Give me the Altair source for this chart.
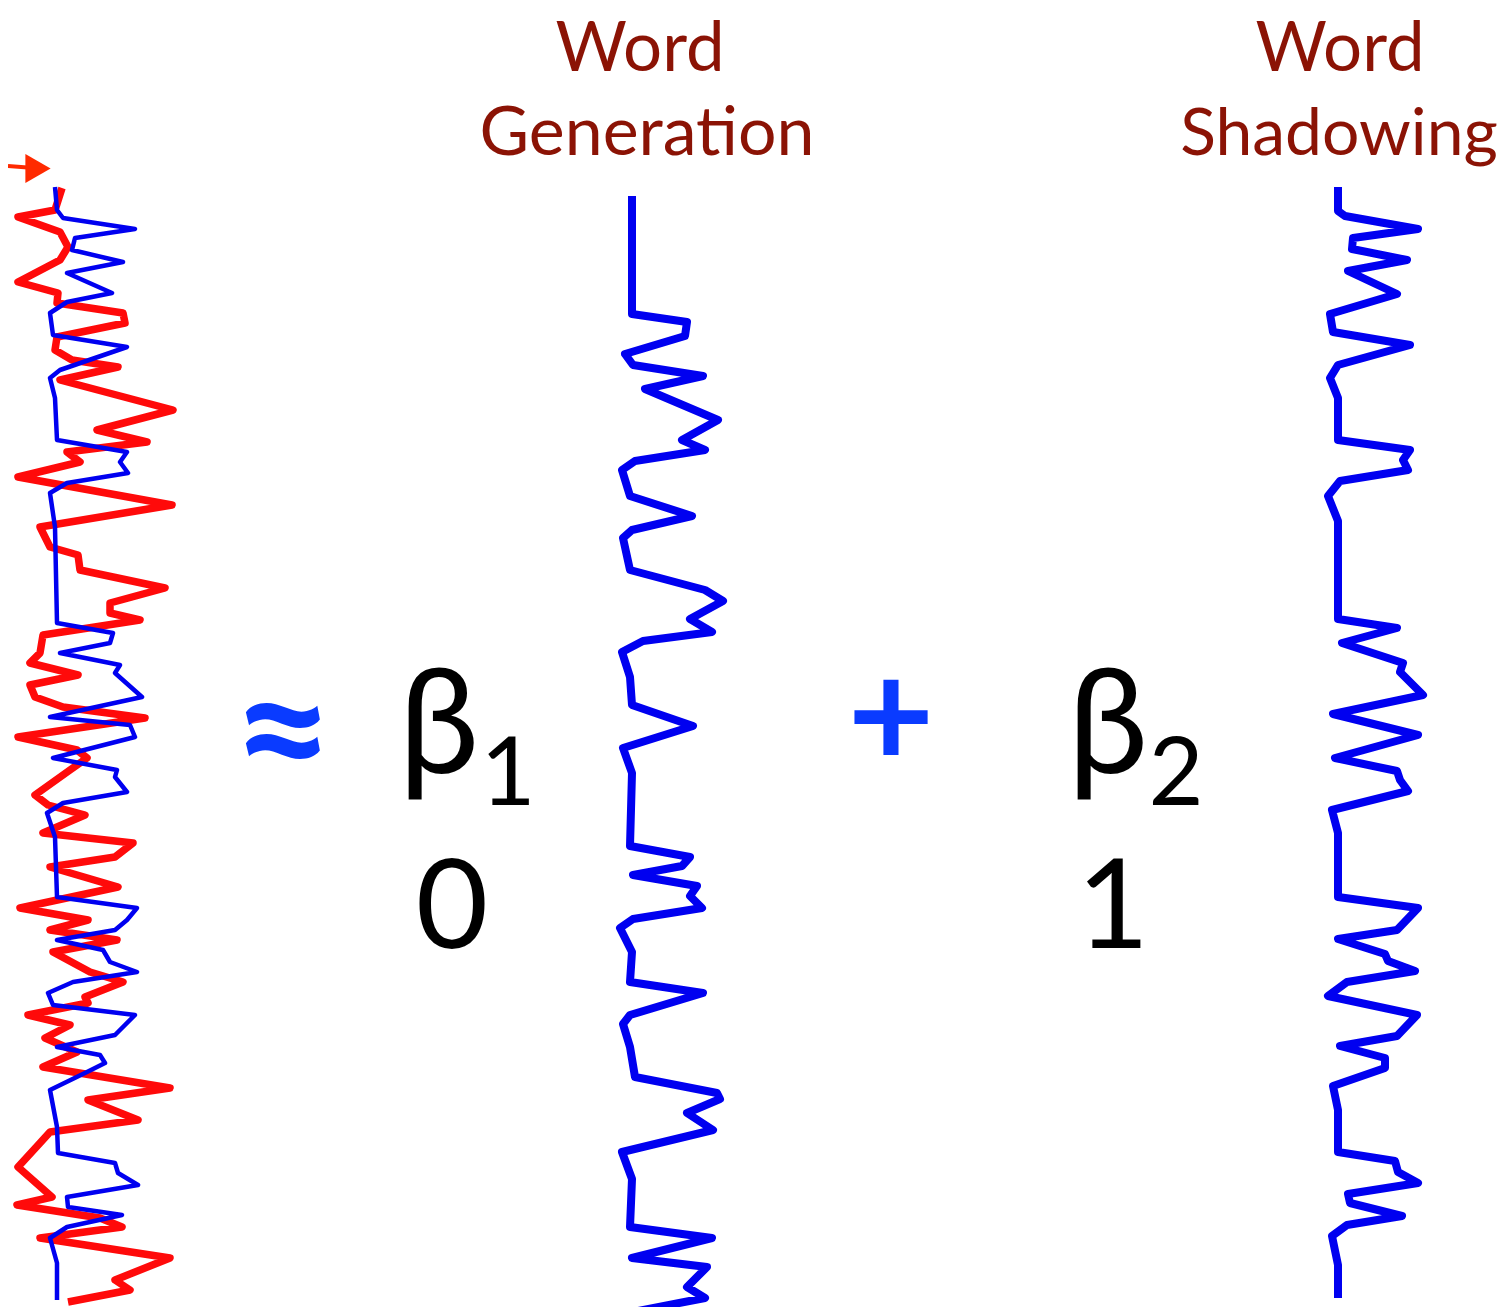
import altair as alt
import pandas as pd

# ---- data: time (scan) and signal amplitude for each trace ----
# left panel: observed voxel signal (red) and fitted model (blue)
obs_t = [188,210,217,232,247,260,282,293,303,313,323,337,350,360,367,380,410,430,442,452,462,477,505,527,547,555,570,588,603,613,620,635,653,663,675,685,697,707,718,737,750,758,770,795,805,815,833,843,857,867,887,908,920,930,940,952,972,982,997,1003,1015,1025,1038,1052,1067,1088,1100,1120,1132,1143,1167,1197,1205,1218,1227,1238,1258,1280,1290,1302]
obs_v = [5,-2,-39,3,11,3,-39,1,0,66,68,0,-2,15,61,3,116,40,90,10,23,-39,115,-17,-7,21,23,108,53,53,83,-14,-17,-27,21,-27,-22,6,88,-39,20,30,13,-22,-9,28,-14,76,58,-7,61,-37,31,-7,60,-4,33,66,28,31,-29,13,-12,20,-14,113,31,81,-7,-17,-39,-5,-40,43,65,-17,113,58,73,11]

fit_t = [187,210,218,229,238,250,262,273,293,302,313,335,347,370,378,398,440,452,462,473,483,493,527,623,633,643,653,665,673,697,717,725,737,758,770,777,792,803,813,837,897,908,920,930,940,950,962,972,982,993,1005,1015,1035,1047,1055,1063,1072,1090,1127,1153,1163,1173,1185,1197,1207,1215,1227,1238,1263,1300]
fit_v = [-2,0,6,78,18,15,66,10,55,10,-7,-4,70,3,-7,-2,0,70,63,71,10,-7,-2,0,56,53,3,63,58,85,-7,73,78,-4,60,58,70,6,-10,-2,0,80,70,58,0,46,53,80,16,-9,-4,78,58,0,43,48,30,-7,0,1,58,61,81,10,11,65,10,-7,0,0]

# word generation regressor
gen_t = [196,314,322,336,354,365,376,389,420,440,450,461,470,496,516,530,538,570,590,601,619,632,641,652,677,705,726,748,773,846,857,866,875,886,896,908,919,928,952,982,993,1015,1024,1047,1077,1093,1099,1113,1130,1152,1179,1227,1238,1258,1267,1287,1298,1311]
gen_v = [1,1,56,54,-6,2,72,14,87,51,74,4,-9,-1,61,1,-8,-1,74,92,59,81,12,-9,-1,1,62,-8,1,-1,59,51,2,66,59,71,2,-11,1,-1,72,-1,-8,-1,4,86,89,56,82,-9,1,-1,81,1,76,56,74,7]

# word shadowing regressor
sha_t = [187,211,216,229,238,249,260,271,294,314,332,345,365,378,398,440,450,460,470,481,496,521,619,628,643,663,672,695,714,735,758,771,780,791,810,833,897,908,930,939,954,961,971,982,996,1015,1036,1046,1058,1068,1086,1110,1152,1161,1172,1183,1194,1203,1216,1225,1236,1265,1298]
sha_v = [0,0,7,80,15,14,69,10,59,-8,-5,72,0,-8,0,0,72,65,70,2,-10,0,0,59,4,65,62,85,-5,80,-3,59,62,70,-6,0,0,80,59,0,47,50,77,9,-10,79,59,2,47,47,-5,0,0,57,60,80,10,12,64,9,-6,0,0]

# ---- layout (positions / styles) ----
LEFT_BASE, MID_BASE, RIGHT_BASE = 57, 631, 1338
RED = "#FF0A0A"
BLUE = "#0000F0"
TITLE = "#8B1305"
SYM_BLUE = "#0A3BFF"
FONT = "Lato"

rows = []
def add(name, ts, vs, base):
    for i, (t, v) in enumerate(zip(ts, vs)):
        rows.append({"trace": name, "i": i, "t": t, "pos": base + v})

add("obs", obs_t, obs_v, LEFT_BASE)
add("fit", fit_t, fit_v, LEFT_BASE)
add("gen", gen_t, gen_v, MID_BASE)
add("sha", sha_t, sha_v, RIGHT_BASE)
df = pd.DataFrame(rows)

xs = alt.Scale(domain=[8, 1498], nice=False, zero=False)
ys = alt.Scale(domain=[8, 1307], nice=False, zero=False, reverse=True)

def trace(name, color, width):
    return alt.Chart(df).transform_filter(alt.datum.trace == name).mark_line(
        color=color, strokeWidth=width, strokeJoin="round", strokeCap="butt"
    ).encode(
        x=alt.X("pos:Q", scale=xs, axis=None),
        y=alt.Y("t:Q", scale=ys, axis=None),
        order="i:Q",
    )

layers = [
    trace("obs", RED, 7.5),
    trace("fit", BLUE, 4.5),
    trace("gen", BLUE, 8),
    trace("sha", BLUE, 8),
]

# arrow top-left
arrow_df = pd.DataFrame({"x": [8, 34], "y": [166, 168]})
layers.append(alt.Chart(arrow_df).mark_line(color="#FF2A00", strokeWidth=4).encode(
    x=alt.X("x:Q", scale=xs, axis=None), y=alt.Y("y:Q", scale=ys, axis=None)))
layers.append(alt.Chart(pd.DataFrame({"x": [38], "y": [168.5]})).mark_point(
    shape="triangle-right", filled=True, color="#FF2A00", size=850, opacity=1).encode(
    x=alt.X("x:Q", scale=xs, axis=None), y=alt.Y("y:Q", scale=ys, axis=None)))

def label(text, x, y, size, color="black", weight="normal", align="center"):
    return alt.Chart(pd.DataFrame({"a": [0]})).mark_text(
        text=text, fontSize=size, font=FONT, color=color, fontWeight=weight,
        align=align, baseline="alphabetic"
    ).encode(x=alt.datum(x, scale=xs), y=alt.datum(y, scale=ys))

layers += [
    label("Word", 640, 71, 69, TITLE),
    label("Generation", 647, 155, 68, TITLE),
    label("Word", 1340, 71, 69, TITLE),
    label("Shadowing", 1339, 155, 66, TITLE),
    label("≈", 283, 790, 175, SYM_BLUE, "bold"),
    label("β", 439, 773, 145),
    label("1", 508, 805, 95),
    label("0", 452, 948, 125),
    label("+", 891, 768, 150, SYM_BLUE, "bold"),
    label("β", 1108, 773, 145),
    label("2", 1176, 805, 95),
    label("1", 1113, 948, 125),
]

chart = alt.layer(*layers).properties(
    width=1490, height=1299, autosize=alt.AutoSizeParams(type="none"), padding=0
).configure_view(stroke=None)

chart.save("out.html", embed_options={"renderer": "svg", "actions": False})
